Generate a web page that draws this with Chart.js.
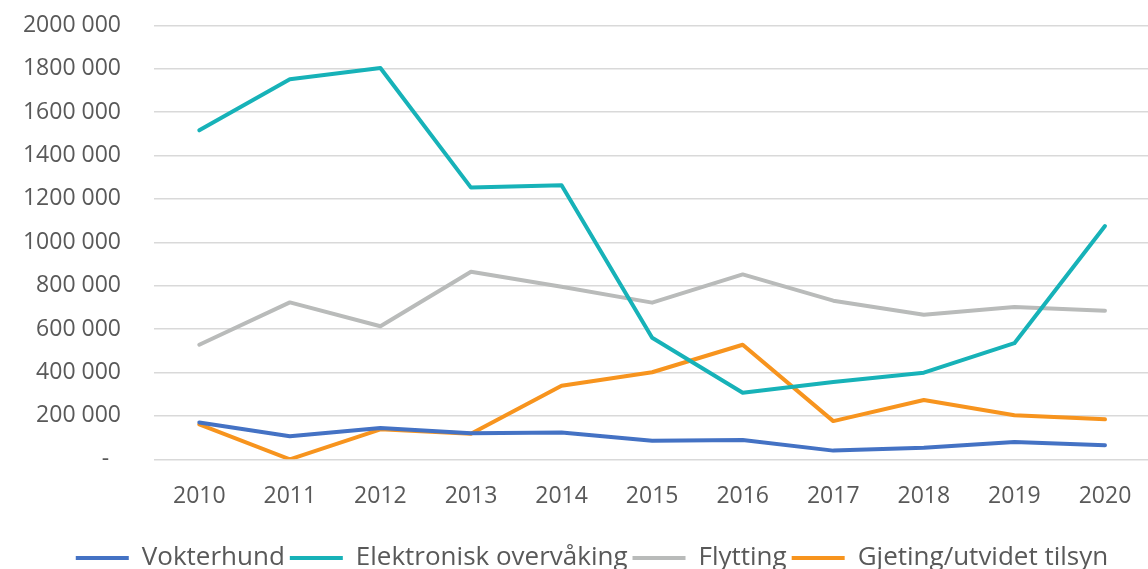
<!DOCTYPE html>
<html>
<head>
<meta charset="utf-8">
<script src="https://cdn.jsdelivr.net/npm/chart.js@4.4.1/dist/chart.umd.min.js"></script>
<style>
  html, body { margin: 0; padding: 0; background: #ffffff; }
  #wrap { width: 1148px; height: 569px; position: relative; }
</style>
</head>
<body>
<div id="wrap"><canvas id="c" width="1148" height="569"></canvas></div>
<script>
const years = [2010, 2011, 2012, 2013, 2014, 2015, 2016, 2017, 2018, 2019, 2020];
const vokterhund = [170000, 106000, 144000, 120000, 124000, 86000, 89000, 40000, 53000, 80000, 65000];
const elektronisk = [1516000, 1751000, 1803000, 1252000, 1263000, 560000, 307000, 356000, 399000, 535000, 1075000];
const flytting = [528000, 723000, 613000, 864000, 795000, 722000, 852000, 731000, 666000, 702000, 685000];
const gjeting = [161000, 0, 138000, 118000, 339000, 401000, 528000, 176000, 273000, 203000, 184000];
const seriesNames = ['Vokterhund', 'Elektronisk overvåking', 'Flytting', 'Gjeting/utvidet tilsyn'];
const yTickValues = [0, 200000, 400000, 600000, 800000, 1000000, 1200000, 1400000, 1600000, 1800000, 2000000];
const yTickLabels = ['-  ', '200 000', '400 000', '600 000', '800 000', '1000 000', '1200 000', '1400 000', '1600 000', '1800 000', '2000 000'];

const colors = ['#4472C4', '#17B2B8', '#B9BBBA', '#F7941E'];
const seriesData = [vokterhund, elektronisk, flytting, gjeting];

const legendShift = {
  id: 'legendShift',
  afterLayout(chart) {
    if (chart.legend) { chart.legend.left += 36; }
  }
};

new Chart(document.getElementById('c'), {
  type: 'line',
  data: {
    labels: years,
    datasets: seriesNames.map((name, i) => ({
      label: name,
      data: seriesData[i],
      borderColor: colors[i],
      backgroundColor: colors[i],
      borderWidth: 4,
      borderCapStyle: 'round',
      borderJoinStyle: 'round',
      pointRadius: 0,
      pointHoverRadius: 0,
      tension: 0,
      fill: false
    }))
  },
  options: {
    responsive: false,
    animation: false,
    devicePixelRatio: 1,
    layout: { padding: { top: 25.3, right: 0, left: 0, bottom: -12 } },
    scales: {
      x: {
        type: 'linear',
        min: 2009.5,
        max: 2020.475,
        afterBuildTicks(scale) { scale.ticks = years.map(v => ({ value: v })); },
        grid: { display: false, drawTicks: false },
        border: { display: false },
        ticks: {
          color: '#595959',
          font: { family: 'Open Sans', size: 23 },
          padding: 23,
          maxRotation: 0,
          autoSkip: false,
          callback(value) { return String(value); }
        },
        afterFit(scale) { scale.height = 80.7; scale.paddingLeft = 0; scale.paddingRight = 0; }
      },
      y: {
        min: 0,
        max: 2000000,
        afterBuildTicks(scale) { scale.ticks = yTickValues.map(v => ({ value: v })); },
        grid: { color: '#D9D9D9', lineWidth: 1.6, drawTicks: false },
        border: { display: false },
        ticks: {
          color: '#595959',
          font: { family: 'Open Sans', size: 23 },
          padding: 33,
          callback(value) { const i = yTickValues.indexOf(value); return i >= 0 ? yTickLabels[i] : ''; }
        },
        afterFit(scale) { scale.width = 154; scale.paddingTop = 0; scale.paddingBottom = 0; }
      }
    },
    plugins: {
      tooltip: { enabled: false },
      legend: {
        position: 'bottom',
        labels: {
          color: '#595959',
          font: { family: 'Open Sans', size: 26 },
          boxWidth: 53,
          boxHeight: 4,
          padding: 5,
          generateLabels(chart) {
            return chart.data.datasets.map((ds, i) => ({
              text: ds.label,
              fillStyle: ds.borderColor,
              strokeStyle: ds.borderColor,
              lineWidth: 0,
              hidden: false,
              datasetIndex: i,
              fontColor: '#595959'
            }));
          }
        }
      }
    }
  },
  plugins: [legendShift]
});
</script>
</body>
</html>
